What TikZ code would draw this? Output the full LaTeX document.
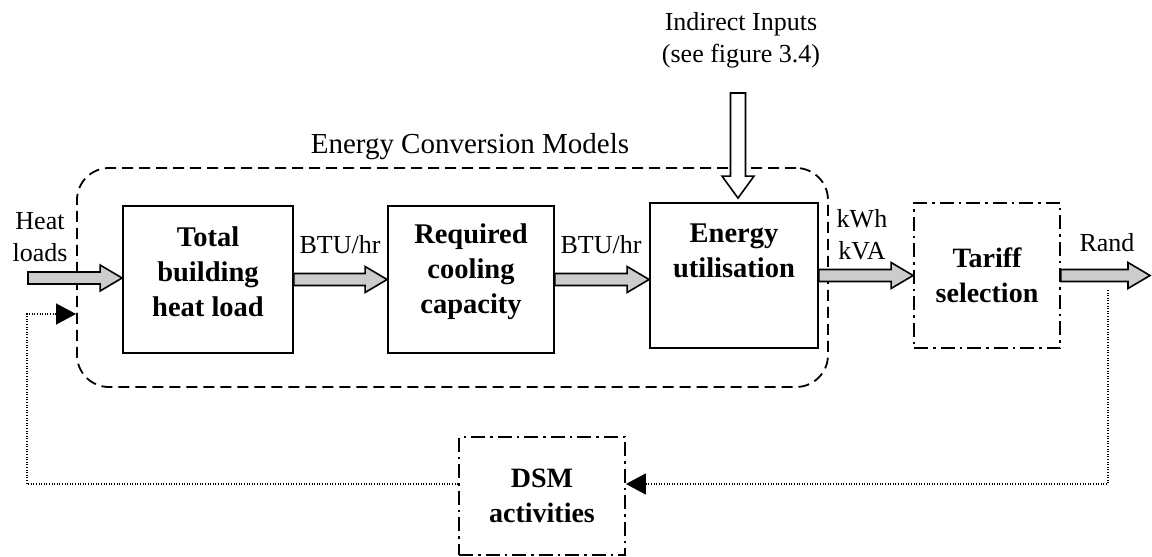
\documentclass[tikz,border=0pt]{standalone}
\usepackage{fontspec}
\setmainfont{Liberation Serif}
\usetikzlibrary{arrows.meta,calc}

\tikzset{
  x=1pt, y=-1pt,
  blk/.style={draw, line width=1.8pt, inner sep=0pt, align=center,
    font=\bfseries\fontsize{28}{35}\selectfont},
  dashdotbox/.style={blk, dash pattern=on 14pt off 5pt on 2.5pt off 5pt},
  bigtxt/.style={font=\fontsize{29}{34}\selectfont, inner sep=0pt},
  lbl/.style={font=\fontsize{26}{32}\selectfont, inner sep=0pt, align=center},
  boldtxt/.style={font=\bfseries\fontsize{28.5}{35}\selectfont, inner sep=0pt, align=center},
  fatarr/.style={draw, line width=1.6pt, fill=gray!40, line join=miter},
  feedback/.style={line width=1.4pt, dash pattern=on 1pt off 1.6pt,
    -{Triangle[length=20pt,width=21pt]}},
}

% horizontal block arrow from #2 to the x of #3
\newcommand\fatarrow[3][]{%
  \filldraw[fatarr,#1] let \p1=#2, \p2=#3 in
    (\x1,\y1+6pt) -- (\x2-22pt,\y1+6pt) -- (\x2-22pt,\y1+13pt) --
    (\x2,\y1) -- (\x2-22pt,\y1-13pt) -- (\x2-22pt,\y1-6pt) --
    (\x1,\y1-6pt) -- cycle;}

\begin{document}
\begin{tikzpicture}
\useasboundingbox (0,0) rectangle (1152,557);

% energy conversion group
\node[draw, line width=1.8pt, dash pattern=on 11pt off 6pt, rounded corners=32pt,
      minimum width=751pt, minimum height=219pt] (ecm) at (452.5,277.5) {};
\node[bigtxt] (ecmlabel) at (470,147) {Energy Conversion Models};

% model blocks
\node[blk, minimum width=170pt, minimum height=147pt] (heat) at (208,279.5) {};
\node[boldtxt] (heattxt) at (208,272) {Total\\building\\heat load};

\node[blk, minimum width=166pt, minimum height=147pt] (cool) at (471,279.5) {};
\node[boldtxt] (cooltxt) at (471,272) {Required\\cooling\\capacity};

\node[blk, minimum width=168pt, minimum height=145pt] (util) at (734,275.5) {};
\node[boldtxt] (utiltxt) at (734,251) {Energy\\utilisation};

\node[dashdotbox, minimum width=146pt, minimum height=145pt] (tariff) at (987,275.5)
  {Tariff\\selection};

\node[dashdotbox, minimum width=166pt, minimum height=118pt] (dsm) at (542,496)
  {DSM\\activities};

% indirect inputs
\node[lbl] (indtxt) at (741,40) {Indirect Inputs\\(see figure 3.4)};
\coordinate (indtop) at (738,93);
\filldraw[fatarr, fill=white] let \p1=(indtop), \p2=(util.north) in
  (\x1-7.5pt,\y1) -- (\x1-7.5pt,\y2+26pt) -- (\x1-16pt,\y2+26pt) --
  (\x1,\y2+4pt) -- (\x1+16pt,\y2+26pt) -- (\x1+7.5pt,\y2+26pt) --
  (\x1+7.5pt,\y1) -- cycle;

% main flow
\coordinate (in) at (28,278);
\coordinate (out) at (1150,277);
\fatarrow{(in)}{(heat.west)}
\fatarrow{(heat.east)}{(cool.west)}
\fatarrow{(cool.east)}{(util.west)}
\fatarrow{(util.east)}{(tariff.west)}
\fatarrow{(tariff.east)}{(out)}

% flow labels
\node[lbl] (heatin) at (40,237) {Heat\\loads};
\node[lbl] (btu1) at (340,245) {BTU/hr};
\node[lbl] (btu2) at (601,245) {BTU/hr};
\node[lbl] (kwh) at (862,235) {kWh\\kVA};
\node[lbl] (rand) at (1107,243) {Rand};

% feedback loop
\coordinate (randfb) at (1108,290);
\coordinate (fbrow) at (0,484);
\coordinate (fbturn) at (27,314);
\coordinate (fbin) at (76,314);
\draw[feedback] (randfb) |- (dsm.east |- fbrow);
\draw[feedback] (dsm.west |- fbrow) -| (fbturn) -- (fbin);
\end{tikzpicture}
\end{document}
